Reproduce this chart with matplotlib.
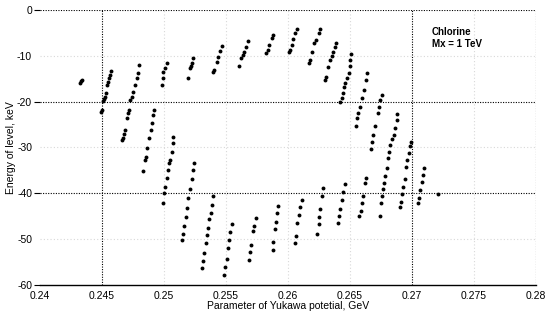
import numpy as np
import matplotlib
matplotlib.use("Agg")
import matplotlib.pyplot as plt

plt.rcParams['font.family'] = ['Liberation Sans', 'DejaVu Sans']

# Yukawa parameter (GeV) and level energy (keV),
# grouped by the four parts of the ring
left_x = [0.24339, 0.24331, 0.24325,
          0.24575, 0.24567, 0.24559, 0.24548, 0.24540, 0.24532, 0.24527, 0.24519, 0.24508, 0.24500, 0.24494,
          0.24803, 0.24795, 0.24782, 0.24769, 0.24755, 0.24742, 0.24728, 0.24723, 0.24715, 0.24702, 0.24688, 0.24680, 0.24669, 0.24661,
          0.25024, 0.25011, 0.24997, 0.24990, 0.24984,
          0.24922, 0.24916, 0.24908, 0.24898, 0.24884, 0.24868, 0.24857, 0.24849, 0.24835,
          0.25077, 0.25073, 0.25065, 0.25051, 0.25045, 0.25032, 0.25024, 0.25013, 0.25002, 0.24992,
          0.25247, 0.25239, 0.25226, 0.25212, 0.25198, 0.25185, 0.25177, 0.25166, 0.25153, 0.25145]
left_y = [-15.3, -15.6, -16.0,
          -13.24, -14.18, -14.90, -15.64, -16.36, -18.18, -18.92, -19.42, -19.86, -21.82, -22.19,
          -12.0, -13.81, -14.90, -16.36, -17.83, -18.92, -19.64, -21.82, -22.54, -23.63, -26.18, -27.06, -27.99, -28.37,
          -11.63, -12.72, -13.46, -14.84, -16.36,
          -21.82, -22.91, -24.72, -26.18, -27.99, -30.18, -32.01, -32.73, -35.13,
          -27.65, -28.96, -30.92, -32.73, -33.45, -34.91, -36.72, -38.56, -40.0, -42.18,
          -33.32, -34.91, -36.94, -39.12, -41.09, -43.27, -45.23, -47.13, -48.88, -50.19]

upper_x = [0.25239, 0.25226, 0.25216, 0.25212, 0.25194,
           0.25468, 0.25454, 0.25440, 0.25427, 0.25408, 0.25400,
           0.25677, 0.25664, 0.25650, 0.25637, 0.25623, 0.25610,
           0.25879, 0.25871, 0.25852, 0.25839, 0.25825,
           0.26073, 0.26059, 0.26045, 0.26032, 0.26019, 0.26013,
           0.26261, 0.26247, 0.26228, 0.26212, 0.26194, 0.26180, 0.26172,
           0.26390, 0.26376, 0.26363, 0.26352, 0.26341, 0.26323, 0.26309, 0.26297,
           0.26510, 0.26502, 0.26497, 0.26489, 0.26476, 0.26462, 0.26454, 0.26444, 0.26435, 0.26422,
           0.26637, 0.26629, 0.26615, 0.26597, 0.26583, 0.26569, 0.26561, 0.26551]
upper_y = [-10.58, -11.46, -12.22, -12.72, -14.90,
           -7.86, -8.84, -10.19, -11.28, -13.09, -13.59,
           -6.70, -8.01, -9.10, -9.82, -10.54, -12.22,
           -5.45, -6.17, -7.64, -8.73, -9.45,
           -4.21, -5.08, -6.39, -7.64, -8.73, -9.10,
           -4.21, -5.08, -6.55, -7.27, -9.10, -10.91, -11.50,
           -7.13, -8.01, -9.10, -10.04, -10.91, -12.37, -14.55, -15.38,
           -9.60, -10.91, -12.22, -13.81, -14.90, -15.99, -16.80, -18.04, -19.27, -20.01,
           -13.68, -15.38, -17.46, -19.20, -21.10, -22.54, -23.63, -25.31]

lower_x = [0.25395, 0.25387, 0.25377, 0.25368, 0.25360, 0.25347, 0.25337, 0.25325, 0.25315, 0.25306,
           0.25548, 0.25535, 0.25527, 0.25516, 0.25506, 0.25494, 0.25486,
           0.25740, 0.25730, 0.25718, 0.25706, 0.25698, 0.25690,
           0.25924, 0.25916, 0.25906, 0.25898, 0.25884, 0.25877,
           0.26113, 0.26099, 0.26091, 0.26075, 0.26067, 0.26056,
           0.26282, 0.26274, 0.26261, 0.26254, 0.26247, 0.26236,
           0.26458, 0.26446, 0.26436, 0.26424, 0.26415, 0.26408,
           0.26627, 0.26619, 0.26607, 0.26597, 0.26589, 0.26577]
lower_y = [-40.69, -42.44, -44.29, -45.67, -47.50, -49.20, -50.91, -52.96, -54.66, -56.36,
           -46.80, -48.44, -50.19, -52.0, -54.33, -56.01, -57.93,
           -45.45, -47.13, -48.22, -51.28, -52.91, -54.61,
           -42.72, -44.36, -46.19, -47.79, -50.56, -52.37,
           -41.46, -42.98, -44.73, -46.41, -49.38, -50.91,
           -38.90, -40.69, -43.53, -45.10, -46.80, -48.81,
           -38.01, -39.65, -41.35, -43.36, -45.01, -46.54,
           -36.72, -37.81, -40.58, -42.18, -43.75, -45.01]

right_x = [0.26758, 0.26744, 0.26736, 0.26726, 0.26704, 0.26690, 0.26677, 0.26669,
           0.26883, 0.26876, 0.26861, 0.26852, 0.26839, 0.26825, 0.26817, 0.26806, 0.26798, 0.26785,
           0.26777, 0.26766, 0.26758, 0.26750, 0.26739,
           0.26992, 0.26981, 0.26973, 0.26962, 0.26954, 0.26942, 0.26932, 0.26922, 0.26911, 0.26903,
           0.27099, 0.27089, 0.27081, 0.27067, 0.27053, 0.27048,
           0.27212]
right_y = [-18.55, -19.64, -21.10, -22.54, -25.42, -27.27, -28.74, -30.40,
           -22.69, -24.0, -25.64, -27.27, -28.04, -29.46, -30.92, -32.36, -34.54, -36.22,
           -37.81, -39.06, -40.58, -42.11, -44.95,
           -28.74, -29.78, -31.27, -32.73, -34.19, -36.98, -38.56, -40.15, -41.83, -42.98,
           -34.54, -36.0, -37.46, -39.28, -41.09, -42.18,
           -40.15]

x_ticks = [0.24, 0.245, 0.25, 0.255, 0.26, 0.265, 0.27, 0.275, 0.28]
x_labels = ['0.24', '0.245', '0.25', '0.255', '0.26', '0.265', '0.27', '0.275', '0.28']
y_major = [0, -20, -40, -60]
y_minor = [-10, -30, -50]

fig = plt.figure(figsize=(5.54, 3.14), dpi=100)
ax = fig.add_axes([0.0717, 0.0924, 0.8958, 0.8758])

# grid: dark dotted lines and faint ones, like the scanned original
for xv in [0.245, 0.27, 0.28]:
    ax.axvline(xv, color='black', lw=0.8, ls=(0, (1, 1.3)), zorder=1)
for xv in [0.25, 0.255, 0.26, 0.265, 0.275]:
    ax.axvline(xv, color='#d8d8d8', lw=0.8, ls=(0, (1, 2)), zorder=1)
for yv in [0, -20, -40]:
    ax.axhline(yv, color='black', lw=0.8, ls=(0, (1, 1.3)), zorder=1)
for yv in y_minor:
    ax.axhline(yv, color='#d8d8d8', lw=0.8, ls=(0, (1, 2)), zorder=1)

for xs, ys in [(left_x, left_y), (upper_x, upper_y), (lower_x, lower_y), (right_x, right_y)]:
    ax.plot(xs, ys, 'o', color='black', ms=2.8, mew=0, zorder=3)

ax.set_xlim(0.24, 0.28)
ax.set_ylim(-60, 0)
ax.set_xticks(x_ticks, x_labels)
ax.set_yticks(y_major, [str(v) for v in y_major])
ax.set_yticks(y_minor, [str(v) for v in y_minor], minor=True)
ax.tick_params(axis='x', length=0, pad=4, labelsize=7.5)
ax.tick_params(axis='y', which='major', length=4, width=0.8, pad=1.5, labelsize=7.5)
ax.tick_params(axis='y', which='minor', length=0, pad=5.5, labelsize=7.5)

for side in ['left', 'top', 'right']:
    ax.spines[side].set_visible(False)
ax.spines['bottom'].set_linewidth(1.0)

ax.set_xlabel('Parameter of Yukawa potetial, GeV', fontsize=7.5, labelpad=0)
ax.set_ylabel('Energy of level, keV', fontsize=7.5, labelpad=1)

ax.text(0.79, 0.92, 'Chlorine', transform=ax.transAxes, fontsize=7,
        fontweight='bold', va='center')
ax.text(0.79, 0.875, 'Mx = 1 TeV', transform=ax.transAxes, fontsize=7,
        fontweight='bold', va='center')

fig.savefig('out.png', dpi=100)
